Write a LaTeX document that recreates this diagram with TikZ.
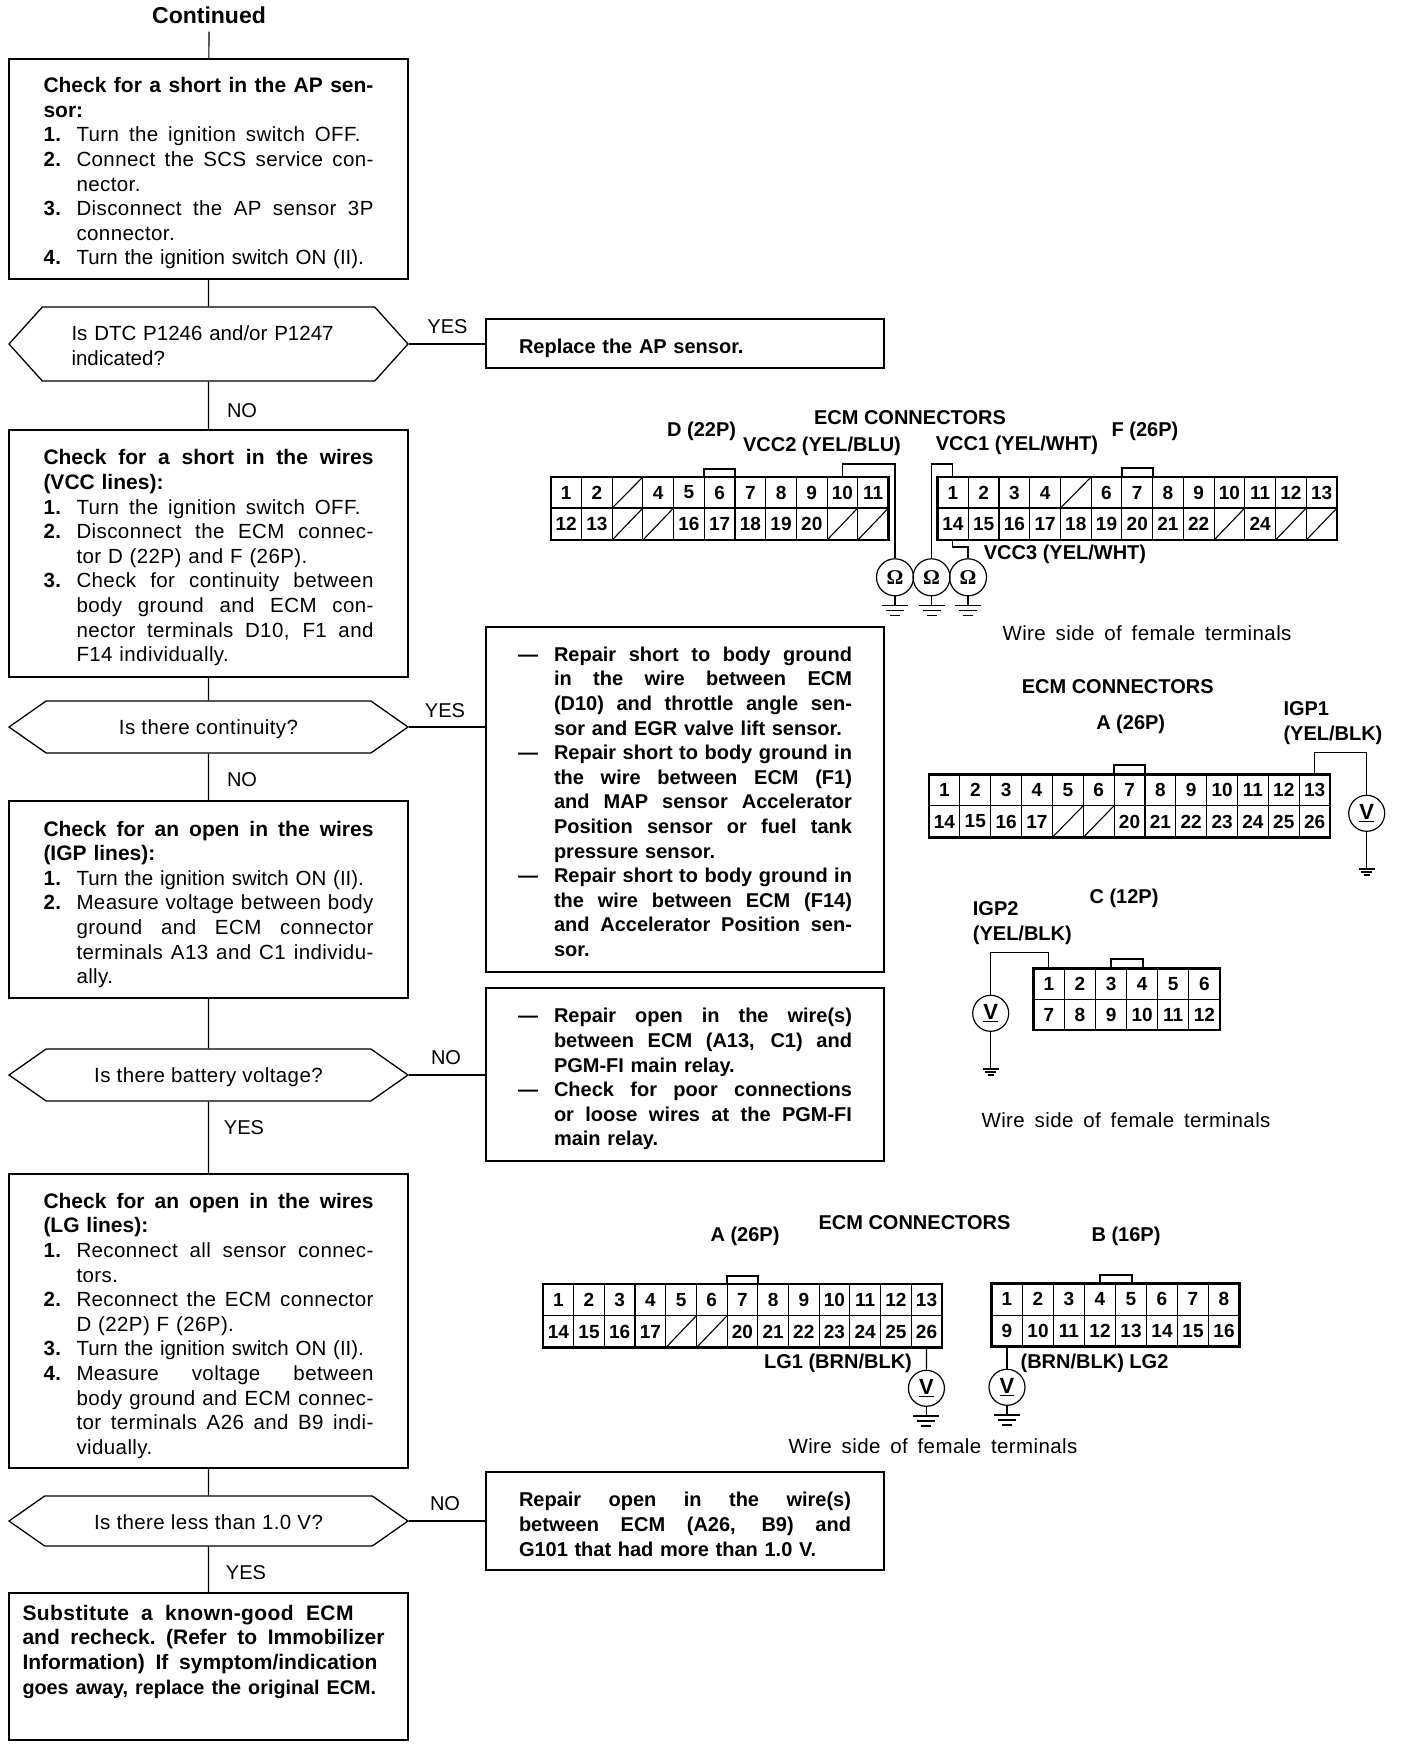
\documentclass[tikz,border=0pt]{standalone}
\usepackage{fontspec}
\setmainfont[LetterSpace=2]{Liberation Sans}
\newfontfamily\plainfont{Liberation Sans}
\newfontfamily\meterfont{Liberation Serif}
\usetikzlibrary{shapes.symbols}

\newcommand{\jl}[2][330pt]{\makebox[#1][s]{\spaceskip=0.278em plus 1em minus 0.06em\relax #2}}
\newcommand{\headline}[1]{{\plainfont\bfseries\fontsize{21}{24.6}\selectfont\jl{#1}}}
\newcommand{\headtail}[1]{{\plainfont\bfseries\fontsize{21}{24.6}\selectfont #1}}
\newcommand{\turnon}{{\plainfont Turn the ignition switch ON (II).}}
\newcommand{\stepnum}[1]{\makebox[33pt][l]{\textbf{#1}}}
\newcommand{\stepind}{\hspace*{33pt}}
\newcommand{\stepdash}{\makebox[36pt][l]{—}}
\newcommand{\dashind}{\hspace*{36pt}}
\newcommand{\lowerby}[1]{\rule{0pt}{#1}}
\newcommand{\raiseby}[1]{\rule[-#1]{0pt}{#1}}
\newcommand{\connrow}[6]{
	\foreach \lab [count=\i] in {#6} {
		\node[pincell, minimum width=#4pt, minimum height=#5pt] (#1\i) at ({#2+#4*(\i-0.5)},#3) {\lab};
	}
}

\tikzset{
	stepbox/.style={draw, line width=1.3pt, minimum width=399pt, inner sep=0pt, text width=330pt, align=left, font=\fontsize{20.5}{24.6}\selectfont},
	repairbox/.style={draw, line width=1.3pt, minimum width=398pt, inner sep=0pt, text width=334pt, align=left, font=\plainfont\fontsize{20}{24.6}\selectfont\bfseries},
	decbox/.style={draw, line width=1.3pt, signal, signal to=west and east, minimum width=399pt, inner sep=0pt, align=center, font=\fontsize{20.5}{24.6}\selectfont},
	answer/.style={font=\plainfont\fontsize{20}{24}\selectfont},
	flow/.style={line width=1.2pt},
	pincell/.style={draw, line width=1.1pt, inner sep=0pt, outer sep=0pt, font=\plainfont\fontsize{19}{19}\selectfont\bfseries},
	pinframe/.style={line width=2.6pt},
	pintab/.style={line width=2pt},
	wire/.style={line width=1.2pt},
	pinlabel/.style={font=\plainfont\fontsize{20}{25}\selectfont\bfseries, align=left, inner sep=0pt},
	sidelabel/.style={font=\fontsize{20.5}{24}\selectfont, inner sep=0pt},
	ohmeter/.style={draw, circle, line width=1.2pt, minimum size=37pt, inner sep=0pt, font=\meterfont\fontsize{21}{21}\selectfont\bfseries},
	voltmeter/.style={draw, circle, line width=1.2pt, minimum size=36pt, inner sep=0pt, font=\plainfont\fontsize{22}{22}\selectfont\bfseries},
	gnd/.pic={
		\draw[line width=1.2pt] (-13,0) -- (13,0);
		\draw[line width=1.6pt] (-9,5) -- (9,5);
		\draw[line width=1.6pt] (-5,10) -- (5,10);
	}
}

\begin{document}
\begin{tikzpicture}[x=1pt,y=-1pt]
	\useasboundingbox (0,0) rectangle (1408,1750);

	% left column
	\node[font=\plainfont\fontsize{23}{24}\selectfont\bfseries, inner ysep=8pt] (cont) at (209,15) {Continued};
	\node[stepbox, minimum height=220pt] (box1) at (208.5,169) {
		\lowerby{24pt}\headline{Check for a short in the AP sen-}\\
		\headtail{sor:}\\
		\jl[317pt]{\stepnum{1.}Turn the ignition switch OFF.}\\
		\jl{\stepnum{2.}Connect the SCS service con-}\\
		\stepind nector.\\
		\jl{\stepnum{3.}Disconnect the AP sensor 3P}\\
		\stepind connector.\\
		\stepnum{4.}\turnon};
	\node[decbox, minimum height=74pt, signal pointer angle=96, text width=274pt, align=left, font=\plainfont\fontsize{20.5}{24.6}\selectfont] (dec1) at (208.5,344) {
		\lowerby{18pt}Is DTC P1246 and/or P1247\\ indicated?};
	\node[stepbox, minimum height=247pt] (box2) at (208.5,553.5) {
		\lowerby{24pt}\headline{Check for a short in the wires}\\
		\headtail{(VCC lines):}\\
		\jl[317pt]{\stepnum{1.}Turn the ignition switch OFF.}\\
		\jl{\stepnum{2.}Disconnect the ECM connec-}\\
		\stepind tor D (22P) and F (26P).\\
		\jl{\stepnum{3.}Check for continuity between}\\
		\stepind\jl[297pt]{body ground and ECM con-}\\
		\stepind\jl[297pt]{nector terminals D10, F1 and}\\
		\stepind F14 individually.};
	\node[decbox, minimum height=52pt, signal pointer angle=70] (dec2) at (208.5,727) {\lowerby{20pt}Is there continuity?};
	\node[stepbox, minimum height=197pt] (box3) at (208.5,899.5) {
		\lowerby{25pt}\headline{Check for an open in the wires}\\
		\headtail{(IGP lines):}\\
		\stepnum{1.}\turnon\\
		\jl{\stepnum{2.}Measure voltage between body}\\
		\stepind\jl[297pt]{ground and ECM connector}\\
		\stepind\jl[297pt]{terminals A13 and C1 individu-}\\
		\stepind ally.};
	\node[decbox, minimum height=52pt, signal pointer angle=70] (dec3) at (208.5,1075) {\lowerby{20pt}Is there battery voltage?};
	\node[stepbox, minimum height=294pt] (box4) at (208.5,1321) {
		\lowerby{25pt}\headline{Check for an open in the wires}\\
		\headtail{(LG lines):}\\
		\jl{\stepnum{1.}Reconnect all sensor connec-}\\
		\stepind tors.\\
		\jl{\stepnum{2.}Reconnect the ECM connector}\\
		\stepind D (22P) F (26P).\\
		\stepnum{3.}\turnon\\
		\jl{\stepnum{4.}Measure voltage between}\\
		\stepind\jl[297pt]{body ground and ECM connec-}\\
		\stepind\jl[297pt]{tor terminals A26 and B9 indi-}\\
		\stepind vidually.};
	\node[decbox, minimum height=50pt, signal pointer angle=70] (dec4) at (208.5,1521) {\lowerby{18pt}Is there less than 1.0 V?};
	\node[stepbox, minimum height=147pt, text width=372pt, font=\fontsize{21}{24.6}\selectfont\bfseries] (box5) at (208.5,1666.5) {
		\jl[331pt]{Substitute a known-good ECM}\\
		{\plainfont\jl[362pt]{and recheck. (Refer to Immobilizer}}\\
		{\plainfont\jl[355pt]{Information) If symptom/indication}}\\
		{\plainfont\fontsize{19.8}{24.6}\selectfont goes away, replace the original ECM.}\raiseby{34pt}};

	% right column
	\node[repairbox, minimum height=49pt, text width=332pt] (rep0) at (685,343.5) {\lowerby{25pt}Replace the AP sensor.};
	\node[repairbox, minimum height=345pt] (rep1) at (685,799.5) {
		\lowerby{19pt}\stepdash\jl[298pt]{Repair short to body ground}\\
		\dashind\jl[298pt]{in the wire between ECM}\\
		\dashind\jl[298pt]{(D10) and throttle angle sen-}\\
		\dashind sor and EGR valve lift sensor.\\
		\stepdash\jl[298pt]{Repair short to body ground in}\\
		\dashind\jl[298pt]{the wire between ECM (F1)}\\
		\dashind\jl[298pt]{and MAP sensor Accelerator}\\
		\dashind\jl[298pt]{Position sensor or fuel tank}\\
		\dashind pressure sensor.\\
		\stepdash\jl[298pt]{Repair short to body ground in}\\
		\dashind\jl[298pt]{the wire between ECM (F14)}\\
		\dashind\jl[298pt]{and Accelerator Position sen-}\\
		\dashind sor.};
	\node[repairbox, minimum height=173pt] (rep2) at (685,1074.5) {
		\lowerby{24pt}\stepdash\jl[298pt]{Repair open in the wire(s)}\\
		\dashind\jl[298pt]{between ECM (A13, C1) and}\\
		\dashind PGM-FI main relay.\\
		\stepdash\jl[298pt]{Check for poor connections}\\
		\dashind\jl[298pt]{or loose wires at the PGM-FI}\\
		\dashind main relay.};
	\node[repairbox, minimum height=98pt, text width=332pt] (rep3) at (685,1521) {
		\lowerby{21pt}\jl[332pt]{Repair open in the wire(s)}\\
		\jl[332pt]{between ECM (A26, B9) and}\\
		G101 that had more than 1.0 V.};

	% flow lines
	\draw[flow] (cont) -- (box1);
	\draw[flow] (box1) -- (dec1);
	\draw[flow] (dec1) -- (box2);
	\draw[flow] (box2) -- (dec2);
	\draw[flow] (dec2) -- (box3);
	\draw[flow] (box3) -- (dec3);
	\draw[flow] (dec3) -- (box4);
	\draw[flow] (box4) -- (dec4);
	\draw[flow] (dec4) -- (box5);
	\draw[flow] (dec1.east) -- (dec1.east -| rep0.west);
	\draw[flow] (dec2.east) -- (dec2.east -| rep1.west);
	\draw[flow] (dec3.east) -- (dec3.east -| rep2.west);
	\draw[flow] (dec4.east) -- (dec4.east -| rep3.west);

	\node[answer] (yes1) at (447.5,327) {YES};
	\node[answer] (no1) at (242,411) {NO};
	\node[answer] (yes2) at (445,711) {YES};
	\node[answer] (no2) at (242,780) {NO};
	\node[answer] (no3) at (446,1058) {NO};
	\node[answer] (yes3) at (244,1128) {YES};
	\node[answer] (no4) at (445,1504) {NO};
	\node[answer] (yes4) at (246,1573) {YES};

	% connectors D and F
	\connrow{dA}{550.8}{492.5}{30.7}{31}{1,2,{},4,5,6,7,8,9,10,11}
	\connrow{dB}{550.8}{524}{30.7}{32}{12,13,{},{},16,17,18,19,20,{},{}}
	\connrow{fA}{937.5}{492.5}{30.73}{31}{1,2,3,4,{},6,7,8,9,10,11,12,13}
	\connrow{fB}{937.5}{524}{30.73}{32}{14,15,16,17,18,19,20,21,22,{},24,{},{}}
	\foreach \c in {dA3,dB3,dB4,dB10,dB11,fA5,fB10,fB12,fB13}
		\draw[line width=1.1pt] (\c.south west) -- (\c.north east);
	\draw[pinframe] (dA1.north west) rectangle (dB11.south east);
	\draw[pinframe] (fA1.north west) rectangle (fB13.south east);
	\draw[pintab] (dA6.north west) -- ++(0,-8) -| (dA6.north east);
	\draw[pintab] (fA7.north west) -- ++(0,-9) -| (fA7.north east);

	\node[ohmeter] (om1) at (895,577.3) {Ω};
	\node[ohmeter] (om2) at (931.5,577.3) {Ω};
	\node[ohmeter] (om3) at (968,577.3) {Ω};
	\draw[wire] (dA10.north) -- ++(0,-13) -| (om1.north);
	\draw[wire] (fA1.north) -- ++(0,-13) -| (om2.north);
	\draw[wire] (fB1.south) -- ++(0,7) -| (om3.north);
	\foreach \m in {om1,om2,om3} {
		\draw[wire] (\m.south) -- ++(0,9) pic {gnd};
	}
	\node[pinlabel] (ecm1) at (910,418) {ECM CONNECTORS};
	\node[pinlabel] (dlab) at (701.6,431.7) {D (22P)};
	\node[pinlabel] (flab) at (1145,431.7) {F (26P)};
	\node[pinlabel] (vcc2) at (822,446.7) {VCC2 (YEL/BLU)};
	\node[pinlabel] (vcc1) at (1017,445) {VCC1 (YEL/WHT)};
	\node[pinlabel] (vcc3) at (1065,554) {VCC3 (YEL/WHT)};
	\node[sidelabel] (side1) at (1147,632.7) {\jl[289pt]{Wire side of female terminals}};

	% connectors A and C
	\connrow{aA}{929}{790}{30.85}{31.4}{1,2,3,4,5,6,7,8,9,10,11,12,13}
	\connrow{aB}{929}{821.5}{30.85}{31.6}{14,15,16,17,{},{},20,21,22,23,24,25,26}
	\foreach \c in {aB5,aB6}
		\draw[line width=1.1pt] (\c.south west) -- (\c.north east);
	\draw[pinframe] (aA1.north west) rectangle (aB13.south east);
	\draw[pintab] (aA7.north west) -- ++(0,-9) -| (aA7.north east);
	\connrow{cA}{1033.3}{983.8}{31.1}{31}{1,2,3,4,5,6}
	\connrow{cB}{1033.3}{1014.7}{31.1}{30.7}{7,8,9,10,11,12}
	\draw[pinframe] (cA1.north west) rectangle (cB6.south east);
	\draw[pintab] ([xshift=-16pt]cA4.north west) -- ++(0,-9) -| ([xshift=16pt]cA4.north west);

	\node[voltmeter] (vm1) at (1366.7,813.3) {\underline{V}};
	\node[voltmeter] (vm2) at (990.7,1013.3) {\underline{V}};
	\draw[wire] (aA13.north) -- ++(0,-21.6) -| (vm1.north);
	\draw[wire] (cA1.north) -- ++(0,-15.6) -| (vm2.north);
	\draw[wire] (vm1.south) -- ++(0,37) pic[scale=0.62] {gnd};
	\draw[wire] (vm2.south) -- ++(0,37) pic[scale=0.62] {gnd};
	\node[pinlabel] (ecm2) at (1117.7,687) {ECM CONNECTORS};
	\node[pinlabel] (alab) at (1130.7,724) {A (26P)};
	\node[pinlabel, anchor=west] (igp1) at (1283.3,723) {IGP1\\(YEL/BLK)};
	\node[pinlabel] (clab) at (1124,898.3) {C (12P)};
	\node[pinlabel, anchor=west] (igp2) at (972.7,923) {IGP2\\(YEL/BLK)};
	\node[sidelabel] (side2) at (1126,1120) {\jl[289pt]{Wire side of female terminals}};

	% connectors A and B
	\connrow{lA}{543}{1299.9}{30.68}{31.7}{1,2,3,4,5,6,7,8,9,10,11,12,13}
	\connrow{lB}{543}{1331.7}{30.68}{32}{14,15,16,17,{},{},20,21,22,23,24,25,26}
	\foreach \c in {lB5,lB6}
		\draw[line width=1.1pt] (\c.south west) -- (\c.north east);
	\draw[pinframe] (lA1.north west) rectangle (lB13.south east);
	\draw[pintab] (lA7.north west) -- ++(0,-8) -| (lA7.north east);
	\connrow{bA}{991.5}{1299.2}{31}{31.7}{1,2,3,4,5,6,7,8}
	\connrow{bB}{991.5}{1330.9}{31}{31.7}{9,10,11,12,13,14,15,16}
	\draw[pinframe] (bA1.north west) rectangle (bB8.south east);
	\draw[pintab] ([xshift=-16pt]bA5.north west) -- ++(0,-8) -| ([xshift=16pt]bA5.north west);

	\node[voltmeter] (vm3) at (926.4,1388.3) {\underline{V}};
	\node[voltmeter] (vm4) at (1007,1387.3) {\underline{V}};
	\draw[wire] (lB13.south) -- (vm3.north);
	\draw[wire] (bB1.south) -- (vm4.north);
	\draw[wire] (vm3.south) -- ++(0,9) pic {gnd};
	\draw[wire] (vm4.south) -- ++(0,9) pic {gnd};
	\node[pinlabel] (ecm3) at (914.5,1223) {ECM CONNECTORS};
	\node[pinlabel] (a2lab) at (745,1236) {A (26P)};
	\node[pinlabel] (blab) at (1126,1236) {B (16P)};
	\node[pinlabel] (lg1) at (838,1363.3) {LG1 (BRN/BLK)};
	\node[pinlabel] (lg2) at (1094.5,1363.3) {(BRN/BLK) LG2};
	\node[sidelabel] (side3) at (933,1446) {\jl[289pt]{Wire side of female terminals}};
\end{tikzpicture}
\end{document}
